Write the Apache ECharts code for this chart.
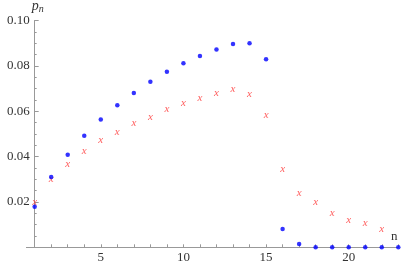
<!DOCTYPE html>
<html><head><meta charset="utf-8">
<script src="https://cdn.jsdelivr.net/npm/echarts@6/dist/echarts.min.js"></script>
<style>html,body{margin:0;padding:0;background:#fff}#c{width:402px;height:263px}</style>
</head><body><div id="c"></div>
<script>
const nBlue = [1,2,3,4,5,6,7,8,9,10,11,12,13,14,15,16,17,18,19,20,21,22,23];
const blueValues = [0.0179,0.0310,0.0408,0.0492,0.0564,0.0626,0.0680,0.0730,0.0774,0.0812,0.0844,0.0872,0.0896,0.0900,0.0829,0.0081,0.0015,0,0,0,0,0,0];
const nRed = [1,2,3,4,5,6,7,8,9,10,11,12,13,14,15,16,17,18,19,20,21,22];
const redValues = [0.0198,0.0300,0.0367,0.0424,0.0472,0.0509,0.0547,0.0575,0.0609,0.0634,0.0659,0.0678,0.0696,0.0674,0.0583,0.0343,0.0240,0.0198,0.0151,0.0120,0.0106,0.0081];
const xTickLabels = [5,10,15,20];
const yTickLabels = [0.02,0.04,0.06,0.08,0.10];

const W = 402, gl = 26.4, gr = 3.7, xMin = 0.5, xMax = 23;
const unit = (W - gl - gr) / (xMax - xMin);
const serif = 'Liberation Serif';
const allInts = [];
for (let i = 1; i <= 23; i++) allInts.push(i);

const chart = echarts.init(document.getElementById('c'));
chart.setOption({
  animation: false,
  grid: {left: gl, right: gr, top: 20.5, bottom: 15.7, outerBoundsMode: 'none'},
  xAxis: {
    type: 'value', min: xMin, max: xMax,
    name: 'n', nameLocation: 'end', nameGap: -4,
    nameTextStyle: {fontFamily: serif, fontSize: 13, color: '#333', align: 'center', verticalAlign: 'bottom', padding: [0,0,4,0]},
    axisLine: {onZero: false, lineStyle: {color: '#999', width: 1}},
    axisTick: {show: true, inside: true, length: 3, customValues: allInts, lineStyle: {color: '#999'}},
    axisLabel: {customValues: xTickLabels, margin: 4, fontFamily: serif, fontSize: 13, color: '#333'},
    splitLine: {show: false}
  },
  yAxis: {
    type: 'value', min: 0, max: 0.1, interval: 0.02,
    offset: -(1 - xMin) * unit,
    name: '{p|p}{s|n}', nameLocation: 'end', nameGap: 4,
    nameTextStyle: {align: 'left', verticalAlign: 'bottom', padding: [0,0,0,-3],
      rich: {p: {fontFamily: serif, fontStyle: 'italic', fontSize: 14, color: '#333'},
             s: {fontFamily: serif, fontStyle: 'italic', fontSize: 10, color: '#333', padding: [5,0,0,0]}}},
    axisLine: {show: true, lineStyle: {color: '#999', width: 1}},
    axisTick: {show: true, inside: true, length: 4, lineStyle: {color: '#999'}},
    minorTick: {show: true, splitNumber: 4, length: 2, lineStyle: {color: '#999'}},
    axisLabel: {margin: 5, fontFamily: serif, fontSize: 13, color: '#333',
      formatter: v => (v === 0 ? '' : v.toFixed(2))},
    splitLine: {show: false}
  },
  series: [
    {
      type: 'scatter', clip: false, symbol: 'circle', symbolSize: 4.5,
      itemStyle: {color: '#0000ff'},
      data: nBlue.map((n, i) => [n, blueValues[i]]),
      z: 3
    },
    {
      type: 'scatter', clip: false, symbol: 'circle', symbolSize: 1,
      itemStyle: {color: 'rgba(0,0,0,0)'},
      label: {show: true, position: 'inside', formatter: 'x', fontFamily: serif, fontStyle: 'italic',
        fontSize: 11, color: '#ff3333', align: 'center', verticalAlign: 'middle'},
      data: nRed.map((n, i) => [n, redValues[i]]),
      z: 2
    }
  ]
});
</script></body></html>
